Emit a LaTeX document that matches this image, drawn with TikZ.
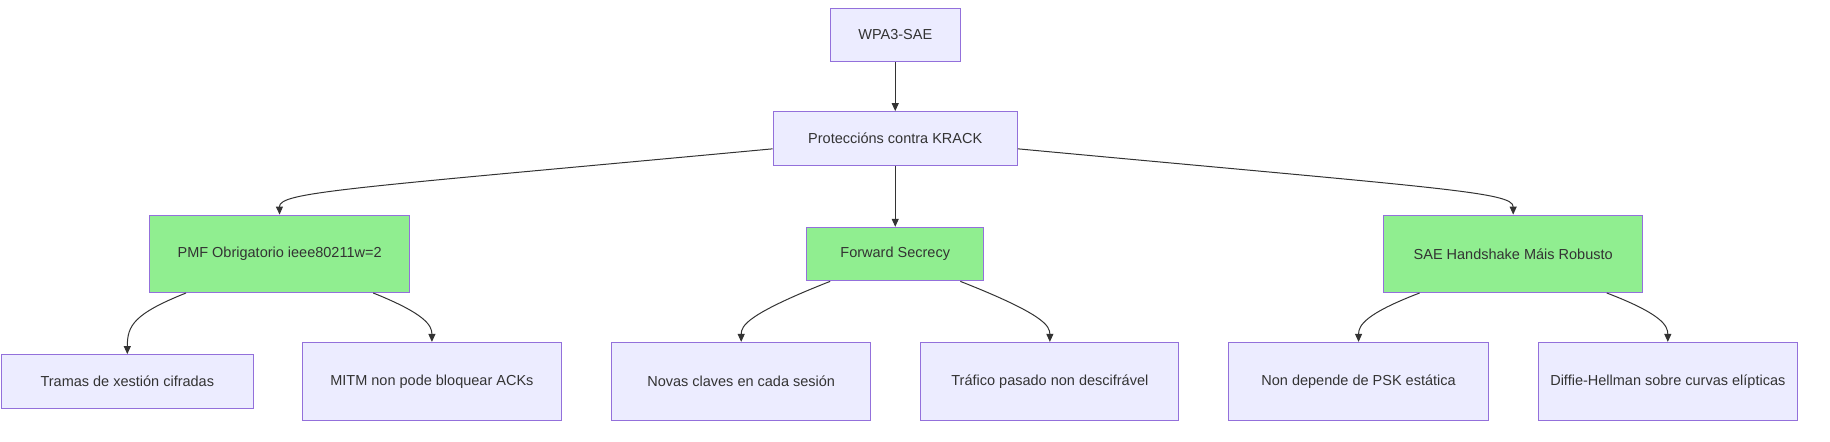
\documentclass[tikz,border=0pt]{standalone}
\usepackage{fontspec}
\setmainfont{Liberation Sans}
\usetikzlibrary{arrows.meta}
\definecolor{lb}{HTML}{ECECFF}
\definecolor{bd}{HTML}{9370DB}
\definecolor{gr}{HTML}{90EE90}
\definecolor{ln}{HTML}{333333}
\begin{document}
\begin{tikzpicture}[x=1.1626pt,y=-1.1626pt,
 box/.style={draw=bd,line width=1pt,fill=lb,inner sep=0pt,font=\fontsize{14.5}{17}\selectfont,text=ln},
 g/.style={box,fill=gr},
 e/.style={draw=ln,line width=1pt,-{Triangle[length=8pt,width=7pt]}}]
\useasboundingbox (0,0) rectangle (1574,380);
\newcommand\bx[7]{\node[#1,minimum width=#4*1.1626pt,minimum height=#5*1.1626pt] (#6) at (#2,#3) {#7};}
\bx{box}{770}{30}{112}{46}{a}{WPA3-SAE}
\bx{box}{770}{119}{210}{46}{b}{Proteccións contra KRACK}
\bx{g}{240.5}{218.5}{223}{67}{c}{PMF Obrigatorio ieee80211w=2}
\bx{g}{770}{218.5}{152}{46}{d}{Forward Secrecy}
\bx{g}{1301.5}{218.5}{223}{67}{f}{SAE Handshake Máis Robusto}
\bx{box}{109.5}{328}{217}{46}{c1}{Tramas de xestión cifradas}
\bx{box}{371.5}{328}{223}{67}{c2}{MITM non pode bloquear ACKs}
\bx{box}{637.5}{328}{223}{67}{d1}{Novas claves en cada sesión}
\bx{box}{903}{328}{222}{67}{d2}{Tráfico pasado non descifrável}
\bx{box}{1168.5}{328}{223}{67}{f1}{Non depende de PSK estática}
\bx{box}{1434.5}{328}{223}{67}{f2}{Diffie-Hellman sobre curvas elípticas}
\draw[e] (a) -- (b);
\draw[e] (b) -- (d);
\draw[e] (b.west |- 0,128) .. controls (300,162) and (240,165) .. (c.north);
\draw[e] (b.east |- 0,128) .. controls (1240,162) and (1301.5,165) .. (f.north);
\draw[e] (160,252) .. controls (115,270) and (109.5,280) .. (c1.north);
\draw[e] (321,252) .. controls (366,270) and (371.5,280) .. (c2.north);
\draw[e] (714,242) .. controls (643,270) and (637.5,280) .. (d1.north);
\draw[e] (826,242) .. controls (897,270) and (903,280) .. (d2.north);
\draw[e] (1221,252) .. controls (1174,270) and (1168.5,280) .. (f1.north);
\draw[e] (1382,252) .. controls (1429,270) and (1434.5,280) .. (f2.north);
\end{tikzpicture}
\end{document}
